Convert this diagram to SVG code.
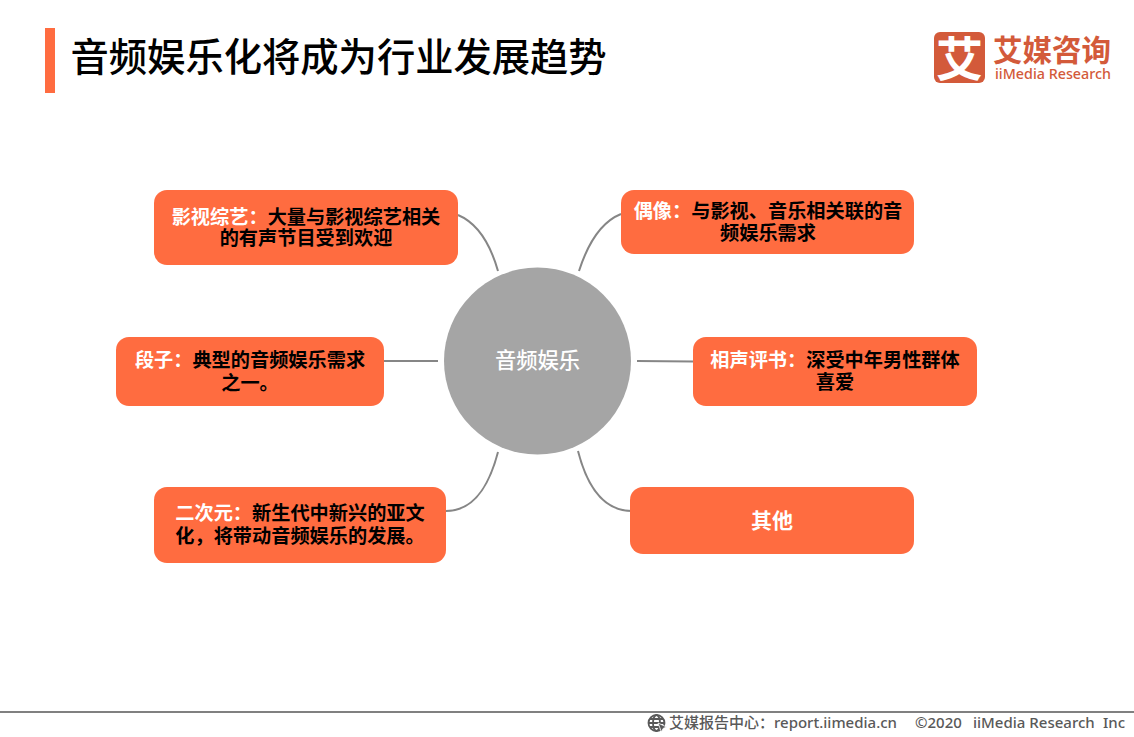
<svg xmlns="http://www.w3.org/2000/svg" width="1134" height="737" viewBox="0 0 1134 737">
<style>
text{font-family:"Liberation Sans","Noto Sans CJK SC",sans-serif}
.box{fill:#ff6c40}
.t{font-size:19.2px;font-weight:700;text-anchor:middle;fill:#000}
.w{fill:#fff}
.c{fill:none;stroke:#868686;stroke-width:2}
.foot{font-size:15px;font-weight:500;fill:#595959}
.foot,.latin{font-family:"Noto Sans","Noto Sans CJK SC",sans-serif}
</style>
<rect width="1134" height="737" fill="#fff"/>
<g id="title">
<rect x="45" y="28" width="10" height="65" fill="#ff6c40"/>
<text x="70.500" y="71" font-size="38.300" font-weight="500" fill="#000" style="font-family:'Noto Sans CJK SC',sans-serif">音频娱乐化将成为行业发展趋势</text>
</g>
<g id="logo">
<rect x="934" y="32" width="51" height="51" rx="6" fill="#d35a3a"/>
<text x="959.500" y="76" font-size="47" font-weight="700" fill="#fff" text-anchor="middle">艾</text>
<text x="993" y="61" font-size="29.500" font-weight="700" fill="#d35a3a">艾媒咨询</text>
<text class="latin" x="995" y="79" font-size="14.300" font-weight="500" fill="#d35a3a">iiMedia Research</text>
</g>
<g id="connectors">
<path class="c" d="M458 215C477 223 490 243 498 271"/>
<path class="c" d="M621 214C601 222 588 243 579 271"/>
<path class="c" d="M384 361H438"/>
<path class="c" d="M637 361L693 361.500"/>
<path class="c" d="M446 511C472 511 488 490 498 452"/>
<path class="c" d="M632 511C606 511 588 490 578 451"/>
</g>
<g id="center">
<circle cx="537.500" cy="361" r="93.500" fill="#a5a5a5"/>
<text x="537.500" y="368" font-size="21.300" font-weight="500" fill="#fff" text-anchor="middle">音频娱乐</text>
</g>
<g id="node-variety">
<rect class="box" x="154" y="190" width="304" height="75" rx="13"/>
<text class="t" x="306" y="224"><tspan class="w">影视综艺：</tspan>大量与影视综艺相关</text>
<text class="t" x="306" y="245">的有声节目受到欢迎</text>
</g>
<g id="node-idol">
<rect class="box" x="621" y="190" width="293" height="64" rx="13"/>
<text class="t" x="768" y="218"><tspan class="w">偶像：</tspan>与影视、音乐相关联的音</text>
<text class="t" x="768" y="240">频娱乐需求</text>
</g>
<g id="node-joke">
<rect class="box" x="116" y="337" width="268" height="69" rx="13"/>
<text class="t" x="250" y="367"><tspan class="w">段子：</tspan>典型的音频娱乐需求</text>
<text class="t" x="250" y="390">之一。</text>
</g>
<g id="node-crosstalk">
<rect class="box" x="693" y="337" width="284" height="69" rx="13"/>
<text class="t" x="835" y="367"><tspan class="w">相声评书：</tspan>深受中年男性群体</text>
<text class="t" x="835" y="389">喜爱</text>
</g>
<g id="node-acg">
<rect class="box" x="154" y="487" width="292" height="76" rx="13"/>
<text class="t" x="300" y="520"><tspan class="w">二次元：</tspan>新生代中新兴的亚文</text>
<text class="t" x="300" y="543">化，将带动音频娱乐的发展。</text>
</g>
<g id="node-other">
<rect class="box" x="630" y="487" width="284" height="67" rx="13"/>
<text class="t w" x="772" y="528" style="font-size:21px">其他</text>
</g>
<g id="footer">
<rect x="0" y="711" width="1134" height="2" fill="#808080"/>
<g fill="none" stroke="#595959" stroke-width="1.800">
<circle cx="656.500" cy="723" r="8"/>
<ellipse cx="656.500" cy="723" rx="3.500" ry="8"/>
<path d="M649 723H664M650 719H663M650 727H663"/>
</g>
<path d="M658 723L666.500 727L663 728.500L661.500 732Z" fill="#595959" stroke="#fff" stroke-width=".8"/>
<text class="foot" x="669" y="728">艾媒报告中心：</text>
<text class="foot" x="774" y="728">report.iimedia.cn</text>
<text class="foot" x="915" y="728">©2020</text>
<text class="foot" x="973" y="728">iiMedia Research</text>
<text class="foot" x="1103" y="728">Inc</text>
</g>
</svg>
